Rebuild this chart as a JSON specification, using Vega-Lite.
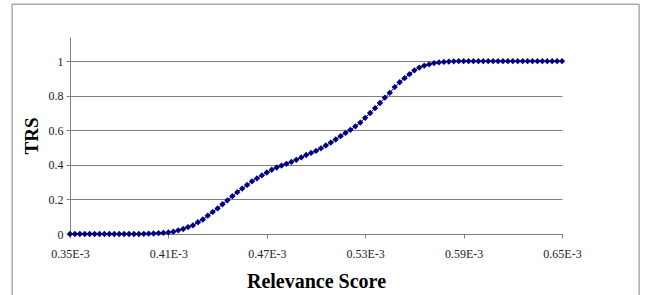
{
  "$schema": "https://vega.github.io/schema/vega-lite/v6.json",
  "autosize": {"type": "none"},
  "width": 492,
  "height": 197,
  "padding": {"left": 70, "top": 37, "right": 86, "bottom": 61},
  "background": "white",
  "config": {
    "view": {"stroke": null},
    "font": "Liberation Serif"
  },
  "resolve": {"axis": {"x": "independent", "y": "independent"}},
  "data": {
    "values": [
      {"score": 0.350, "trs": 0}, {"score": 0.353, "trs": 0}, {"score": 0.356, "trs": 0}, {"score": 0.359, "trs": 0},
      {"score": 0.362, "trs": 0}, {"score": 0.365, "trs": 0}, {"score": 0.368, "trs": 0}, {"score": 0.371, "trs": 0},
      {"score": 0.374, "trs": 0}, {"score": 0.377, "trs": 0}, {"score": 0.380, "trs": 0}, {"score": 0.383, "trs": 0},
      {"score": 0.386, "trs": 0}, {"score": 0.389, "trs": 0}, {"score": 0.392, "trs": 0}, {"score": 0.395, "trs": 0.001},
      {"score": 0.398, "trs": 0.002}, {"score": 0.401, "trs": 0.003}, {"score": 0.404, "trs": 0.005}, {"score": 0.407, "trs": 0.007},
      {"score": 0.410, "trs": 0.009}, {"score": 0.413, "trs": 0.013}, {"score": 0.416, "trs": 0.021}, {"score": 0.419, "trs": 0.029},
      {"score": 0.422, "trs": 0.040}, {"score": 0.425, "trs": 0.050}, {"score": 0.428, "trs": 0.068}, {"score": 0.431, "trs": 0.084},
      {"score": 0.434, "trs": 0.106}, {"score": 0.437, "trs": 0.128}, {"score": 0.440, "trs": 0.148}, {"score": 0.443, "trs": 0.172},
      {"score": 0.446, "trs": 0.195}, {"score": 0.449, "trs": 0.219}, {"score": 0.452, "trs": 0.242}, {"score": 0.455, "trs": 0.263},
      {"score": 0.458, "trs": 0.284}, {"score": 0.461, "trs": 0.305}, {"score": 0.464, "trs": 0.322}, {"score": 0.467, "trs": 0.339},
      {"score": 0.470, "trs": 0.356}, {"score": 0.473, "trs": 0.372}, {"score": 0.476, "trs": 0.385}, {"score": 0.479, "trs": 0.396},
      {"score": 0.482, "trs": 0.406}, {"score": 0.485, "trs": 0.417}, {"score": 0.488, "trs": 0.429}, {"score": 0.491, "trs": 0.443},
      {"score": 0.494, "trs": 0.457}, {"score": 0.497, "trs": 0.469}, {"score": 0.500, "trs": 0.481}, {"score": 0.503, "trs": 0.496},
      {"score": 0.506, "trs": 0.512}, {"score": 0.509, "trs": 0.529}, {"score": 0.512, "trs": 0.547}, {"score": 0.515, "trs": 0.566},
      {"score": 0.518, "trs": 0.585}, {"score": 0.521, "trs": 0.603}, {"score": 0.524, "trs": 0.623}, {"score": 0.527, "trs": 0.645},
      {"score": 0.530, "trs": 0.672}, {"score": 0.533, "trs": 0.700}, {"score": 0.536, "trs": 0.728}, {"score": 0.539, "trs": 0.758},
      {"score": 0.542, "trs": 0.789}, {"score": 0.545, "trs": 0.817}, {"score": 0.548, "trs": 0.850}, {"score": 0.551, "trs": 0.878},
      {"score": 0.554, "trs": 0.902}, {"score": 0.557, "trs": 0.925}, {"score": 0.560, "trs": 0.947}, {"score": 0.563, "trs": 0.963},
      {"score": 0.566, "trs": 0.974}, {"score": 0.569, "trs": 0.982}, {"score": 0.572, "trs": 0.989}, {"score": 0.575, "trs": 0.993},
      {"score": 0.578, "trs": 0.996}, {"score": 0.581, "trs": 0.998}, {"score": 0.584, "trs": 0.999}, {"score": 0.587, "trs": 1},
      {"score": 0.590, "trs": 1}, {"score": 0.593, "trs": 1}, {"score": 0.596, "trs": 1}, {"score": 0.599, "trs": 1},
      {"score": 0.602, "trs": 1}, {"score": 0.605, "trs": 1}, {"score": 0.608, "trs": 1}, {"score": 0.611, "trs": 1},
      {"score": 0.614, "trs": 1}, {"score": 0.617, "trs": 1}, {"score": 0.620, "trs": 1}, {"score": 0.623, "trs": 1},
      {"score": 0.626, "trs": 1}, {"score": 0.629, "trs": 1}, {"score": 0.632, "trs": 1}, {"score": 0.635, "trs": 1},
      {"score": 0.638, "trs": 1}, {"score": 0.641, "trs": 1}, {"score": 0.644, "trs": 1}, {"score": 0.647, "trs": 1},
      {"score": 0.650, "trs": 1}
    ]
  },
  "layer": [
    {
      "mark": {"type": "line", "color": "#000080", "strokeWidth": 1, "point": {"shape": "diamond", "filled": true, "size": 40, "color": "#000080"}},
      "encoding": {
        "x": {
          "field": "score", "type": "quantitative",
          "scale": {"domain": [0.35, 0.65], "nice": false, "zero": false},
          "axis": {
            "values": [0.35, 0.41, 0.47, 0.53, 0.59, 0.65],
            "labelExpr": "format(datum.value, '.2f') + 'E-3'",
            "labelFlush": false,
            "grid": false,
            "domainColor": "#808080",
            "tickColor": "#808080",
            "tickSize": 4,
            "labelPadding": 10,
            "labelFont": "Liberation Serif",
            "labelFontSize": 12,
            "labelColor": "#222222",
            "title": "Relevance Score",
            "titleFont": "Liberation Serif",
            "titleFontSize": 20,
            "titleFontWeight": "bold",
            "titleColor": "#000000",
            "titlePadding": 12
          }
        },
        "y": {
          "field": "trs", "type": "quantitative",
          "scale": {"domain": [0, 1.14], "nice": false},
          "axis": {
            "values": [0, 0.2, 0.4, 0.6, 0.8, 1],
            "labelExpr": "format(datum.value, '~g')",
            "labelOverlap": false,
            "grid": true,
            "gridColor": "#808080",
            "gridOpacity": 1,
            "domainColor": "#808080",
            "tickColor": "#808080",
            "tickSize": 4,
            "labelPadding": 3,
            "labelFont": "Liberation Serif",
            "labelFontSize": 12,
            "labelColor": "#222222",
            "title": "TRS",
            "titleFont": "Liberation Serif",
            "titleFontSize": 19,
            "titleFontWeight": "bold",
            "titleColor": "#000000",
            "titlePadding": 7
          }
        }
      }
    },
    {
      "data": {"values": [{"frame": "chart"}]},
      "mark": {"type": "rect", "fill": null, "filled": false, "stroke": "#808080", "strokeWidth": 1, "clip": false},
      "encoding": {
        "x": {"datum": 0.3147, "type": "quantitative", "axis": null},
        "x2": {"datum": 0.697},
        "y": {"datum": 1.33, "type": "quantitative", "axis": null},
        "y2": {"datum": -0.45}
      }
    }
  ]
}
